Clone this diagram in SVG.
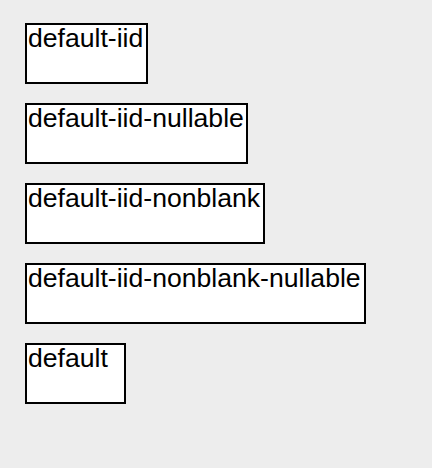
<svg xmlns="http://www.w3.org/2000/svg" width="432" height="468" viewBox="0 0 432 468">
<style>
.bg{fill:#ededed}
.box{fill:#fff;stroke:#000;stroke-width:2}
.lbl{font-family:"Liberation Sans",Arial,sans-serif;font-size:26.6px;fill:#000}
</style>
<rect class="bg" x="0" y="0" width="432" height="468"/>
<g id="connectors"></g>
<g id="node-default-iid">
<rect class="box" x="26" y="24" width="121" height="59"/>
<text class="lbl" x="28" y="47.3">default-iid</text>
</g>
<g id="node-default-iid-nullable">
<rect class="box" x="26" y="104" width="221" height="59"/>
<text class="lbl" x="28" y="127.3">default-iid-nullable</text>
</g>
<g id="node-default-iid-nonblank">
<rect class="box" x="26" y="184" width="238" height="59"/>
<text class="lbl" x="28" y="207.3">default-iid-nonblank</text>
</g>
<g id="node-default-iid-nonblank-nullable">
<rect class="box" x="26" y="264" width="339" height="59"/>
<text class="lbl" x="28" y="287.3">default-iid-nonblank-nullable</text>
</g>
<g id="node-default">
<rect class="box" x="26" y="344" width="99" height="59"/>
<text class="lbl" x="28" y="367.3">default</text>
</g>
</svg>
